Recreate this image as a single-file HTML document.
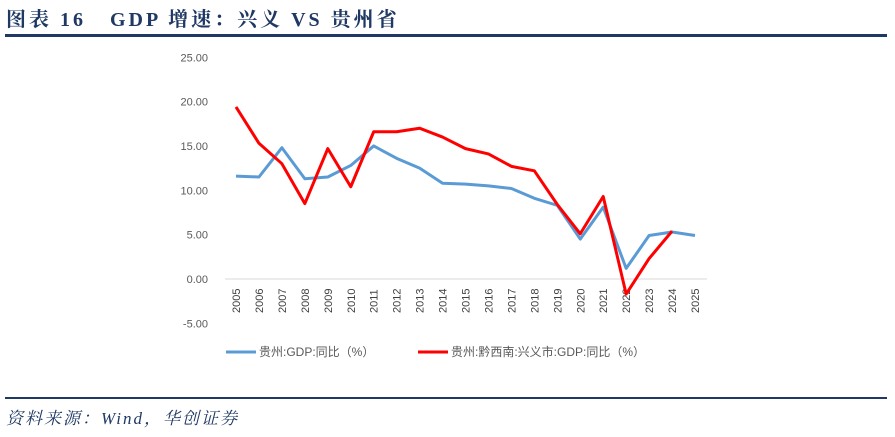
<!DOCTYPE html>
<html><head><meta charset="utf-8"><style>
body{margin:0;width:895px;height:437px;background:#fff;position:relative;overflow:hidden;font-family:"Liberation Serif","Noto Serif CJK SC",serif}
.title{position:absolute;left:6px;top:3px;font-size:20px;letter-spacing:3px;font-weight:bold;color:#1f3864;white-space:pre}
.rule{position:absolute;left:5px;width:882px;background:#1f3864}
.src{position:absolute;left:6px;top:404px;font-size:17px;letter-spacing:2px;font-style:italic;color:#1f3864}
</style></head><body>
<div class="title">图表 16   GDP 增速：兴义 VS 贵州省</div>
<div class="rule" style="top:34px;height:3px"></div>
<svg id="c" width="895" height="437" style="position:absolute;left:0;top:0"></svg>
<div class="rule" style="top:397px;height:2px"></div>
<div class="src">资料来源：Wind，华创证券</div>
<script>
const years=[2005,2006,2007,2008,2009,2010,2011,2012,2013,2014,2015,2016,2017,2018,2019,2020,2021,2022,2023,2024,2025];
const guizhou=[11.6,11.5,14.8,11.3,11.5,12.8,15.0,13.6,12.5,10.8,10.7,10.5,10.2,9.1,8.3,4.5,8.1,1.2,4.9,5.3,4.9];
const xingyi=[19.4,15.3,13.0,8.5,14.7,10.4,16.6,16.6,17.0,16.0,14.7,14.1,12.7,12.2,8.4,5.1,9.3,-1.7,2.3,5.4];
const yTicks=[25,20,15,10,5,0,-5];
const yLabels=["25.00","20.00","15.00","10.00","5.00","0.00","-5.00"];
const ns="http://www.w3.org/2000/svg",svg=document.getElementById('c');
const X=i=>236+i*22.95, Y=v=>279-v*8.87;
function mk(t,a){const e=document.createElementNS(ns,t);for(const k in a)e.setAttribute(k,a[k]);svg.appendChild(e);return e;}
yTicks.forEach((v,i)=>{const t=mk('text',{x:208,y:Y(v)+4,'text-anchor':'end','font-size':11,fill:'#595959','font-family':'Liberation Sans'});t.textContent=yLabels[i];

});
const ax=mk('line',{x1:225,x2:707,y1:Y(0),y2:Y(0),stroke:'#d9d9d9'});


years.forEach((y,i)=>{const t=mk('text',{transform:`translate(${X(i)+4},313) rotate(-90)`,'font-size':11,fill:'#404040','font-family':'Liberation Sans'});t.textContent=y;

});
function line(d,c,w,n){const p=mk('polyline',{points:d.map((v,i)=>X(i)+','+Y(v)).join(' '),fill:'none',stroke:c,'stroke-width':w,'stroke-linejoin':'round'});

}
line(guizhou,'#5b9bd5',3,'series-guizhou');
line(xingyi,'#ff0000',3,'series-xingyi');
function leg(x,c,txt,n){const g=mk('g',{});
const l=document.createElementNS(ns,'line');[['x1',x],['x2',x+30],['y1',352],['y2',352],['stroke',c],['stroke-width',3]].forEach(a=>l.setAttribute(a[0],a[1]));g.appendChild(l);
const t=document.createElementNS(ns,'text');[['x',x+33],['y',356],['font-size',12],['fill','#595959'],['font-family','Liberation Sans, Noto Sans CJK SC, sans-serif']].forEach(a=>t.setAttribute(a[0],a[1]));t.textContent=txt;g.appendChild(t);}
leg(226,'#5b9bd5','贵州:GDP:同比（%）','legend-guizhou');
leg(418,'#ff0000','贵州:黔西南:兴义市:GDP:同比（%）','legend-xingyi');
</script>
</body></html>
